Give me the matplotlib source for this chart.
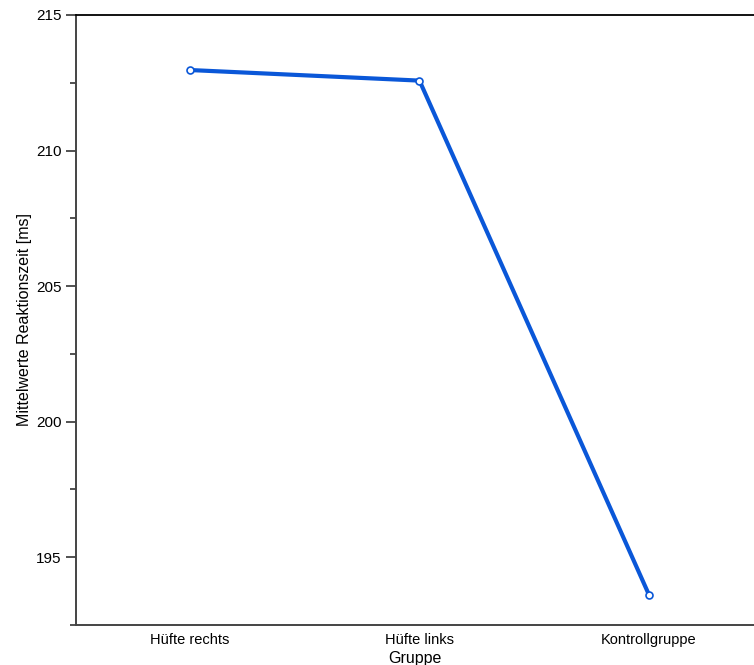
import matplotlib.pyplot as plt
from matplotlib.ticker import MultipleLocator

plt.rcParams['font.family'] = ['Liberation Sans', 'DejaVu Sans']

gruppen = ['Hüfte rechts', 'Hüfte links', 'Kontrollgruppe']
mittelwerte = [212.97, 212.58, 193.62]

fig = plt.figure(figsize=(7.54, 6.65), dpi=100)
ax = fig.add_axes([76/754, 1 - 625/665, 1 - 76/754, (625 - 15)/665])

x = range(len(gruppen))
ax.plot(x, mittelwerte, color='#0a57d8', lw=3, marker='o', ms=5,
        mfc='white', mec='#0a57d8', mew=1.2, solid_capstyle='round')

ax.set_xlim(-0.497, 2.458)
ax.set_ylim(192.5, 215)
ax.set_xticks(list(x))
ax.set_xticklabels(gruppen, fontsize=10.5)
ax.yaxis.set_major_locator(MultipleLocator(5))
ax.yaxis.set_minor_locator(MultipleLocator(2.5))
ax.tick_params(axis='y', labelsize=11, length=7, width=1.2, color='#333333')
ax.tick_params(axis='y', which='minor', length=4, width=1.2, color='#333333')
ax.tick_params(axis='x', length=0, pad=6)

ax.spines['right'].set_visible(False)
ax.spines['top'].set_color('black')
ax.spines['top'].set_linewidth(1.3)
ax.spines['left'].set_color('#444444')
ax.spines['left'].set_linewidth(1.4)
ax.spines['bottom'].set_color('#444444')
ax.spines['bottom'].set_linewidth(1.4)

ax.set_ylabel('Mittelwerte Reaktionszeit [ms]', fontsize=11.5, labelpad=3)
ax.set_xlabel('Gruppe', fontsize=11.5, labelpad=3)

fig.savefig('out.png', dpi=100)
